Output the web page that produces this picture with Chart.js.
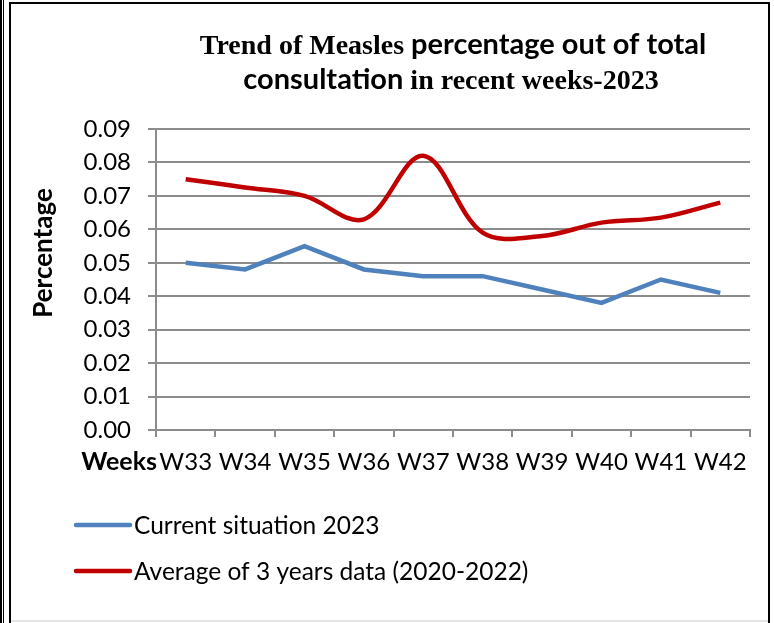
<!DOCTYPE html>
<html>
<head>
<meta charset="utf-8">
<script src="https://cdn.jsdelivr.net/npm/chart.js@4.4.0/dist/chart.umd.min.js"></script>
<style>
  html, body { margin: 0; padding: 0; background: #fff; }
  body { width: 774px; height: 623px; position: relative; overflow: hidden; }
  .frame { position: absolute; background: #000; }
  #wrap { position: absolute; left: 0; top: 0; width: 774px; height: 623px; }
</style>
</head>
<body>
<!-- page frame lines -->
<div class="frame" style="left:0;top:0;width:2px;height:623px"></div>
<div class="frame" style="left:3px;top:0;width:1px;height:623px"></div>
<div class="frame" style="left:9px;top:2px;width:2px;height:621px"></div>
<div class="frame" style="left:9px;top:2px;width:761px;height:2px"></div>
<div class="frame" style="left:768px;top:2px;width:2px;height:621px"></div>
<div style="position:absolute;left:11px;top:620px;width:757px;height:2px;background:#e4e4e4"></div>

<div id="wrap"><canvas id="chart" width="774" height="623"></canvas></div>

<script>
// Data
const weeks = ['W33', 'W34', 'W35', 'W36', 'W37', 'W38', 'W39', 'W40', 'W41', 'W42'];
const current2023 = [0.050, 0.048, 0.055, 0.048, 0.046, 0.046, 0.042, 0.038, 0.045, 0.041];
const avg2020to2022 = [0.075, 0.0725, 0.070, 0.063, 0.082, 0.059, 0.058, 0.062, 0.0635, 0.068];
const yTicks = [0, 0.01, 0.02, 0.03, 0.04, 0.05, 0.06, 0.07, 0.08, 0.09];

const gridColor = '#8c8c8c';
const sans = 'Lato';
const serif = '"Liberation Serif"';

// Title uses two fonts, so draw it piece by piece
function drawMixed(ctx, parts, cx, baseline) {
    let total = 0;
    parts.forEach(p => { ctx.font = p.font; p.w = ctx.measureText(p.text).width; total += p.w; });
    let x = cx - total / 2;
    parts.forEach(p => {
        ctx.font = p.font;
        ctx.fillText(p.text, x, baseline);
        x += p.w;
    });
}

const extraText = {
    id: 'extraText',
    afterDraw(chart) {
        const ctx = chart.ctx;
        ctx.save();
        ctx.fillStyle = '#000';
        ctx.textAlign = 'left';
        ctx.textBaseline = 'alphabetic';

        const serifB = 'bold 28px ' + serif;
        const sansB = 'bold 29px ' + sans;
        drawMixed(ctx, [
            { text: 'Trend of Measles ', font: serifB },
            { text: 'percentage out of total', font: sansB }
        ], 453, 54);
        drawMixed(ctx, [
            { text: 'consultation ', font: sansB },
            { text: 'in recent weeks-2023', font: serifB }
        ], 451, 89);

        // x axis title sits left of the tick labels
        ctx.font = 'bold 25px ' + sans;
        ctx.textAlign = 'right';
        ctx.fillText('Weeks', 157, 470);

        // y axis title
        ctx.save();
        ctx.translate(44, 253);
        ctx.rotate(-Math.PI / 2);
        ctx.textAlign = 'center';
        ctx.textBaseline = 'middle';
        ctx.font = 'bold 26px ' + sans;
        ctx.fillText('Percentage', 0, 0);
        ctx.restore();

        // legend, stacked at bottom left
        ctx.font = '24.5px ' + sans;
        ctx.textAlign = 'left';
        ctx.textBaseline = 'middle';
        ctx.lineCap = 'round';
        chart.data.datasets.forEach((ds, i) => {
            const y = 525 + i * 46;
            ctx.strokeStyle = ds.borderColor;
            ctx.lineWidth = 4.5;
            ctx.beginPath();
            ctx.moveTo(76, y);
            ctx.lineTo(130, y);
            ctx.stroke();
            ctx.fillText(ds.label, 134, y + 1);
        });
        ctx.restore();
    }
};

new Chart(document.getElementById('chart'), {
    type: 'line',
    data: {
        labels: weeks,
        datasets: [{
            label: 'Current situation 2023',
            data: current2023,
            borderColor: '#4f81bd',
            borderWidth: 4.5,
            pointRadius: 0,
            tension: 0,
            fill: false
        }, {
            label: 'Average of 3 years data (2020-2022)',
            data: avg2020to2022,
            borderColor: '#c00000',
            borderWidth: 4.5,
            pointRadius: 0,
            tension: 0.35,
            fill: false
        }]
    },
    options: {
        responsive: false,
        devicePixelRatio: 1,
        animation: false,
        layout: {
            padding: { left: 0, top: 129, right: 24, bottom: 133 }
        },
        plugins: {
            legend: { display: false },
            title: { display: false },
            tooltip: { enabled: false }
        },
        scales: {
            x: {
                offset: true,
                grid: {
                    offset: true,
                    drawOnChartArea: false,
                    drawTicks: true,
                    tickLength: 7,
                    color: gridColor,
                    lineWidth: 2
                },
                border: { color: gridColor, width: 2 },
                ticks: {
                    color: '#000',
                    font: { family: sans, size: 24 },
                    padding: 11,
                    maxRotation: 0,
                    autoSkip: false
                },
                afterFit: scale => { scale.height = 60; }
            },
            y: {
                min: 0,
                max: 0.09,
                afterBuildTicks: scale => {
                    scale.ticks = yTicks.map(v => ({ value: v }));
                },
                grid: {
                    color: gridColor,
                    lineWidth: 2,
                    tickLength: 8
                },
                border: { color: gridColor, width: 2 },
                ticks: {
                    color: '#000',
                    font: { family: sans, size: 24 },
                    padding: 17,
                    callback: v => v.toFixed(2)
                },
                afterFit: scale => { scale.width = 156; }
            }
        }
    },
    plugins: [extraText]
});
</script>
</body>
</html>
